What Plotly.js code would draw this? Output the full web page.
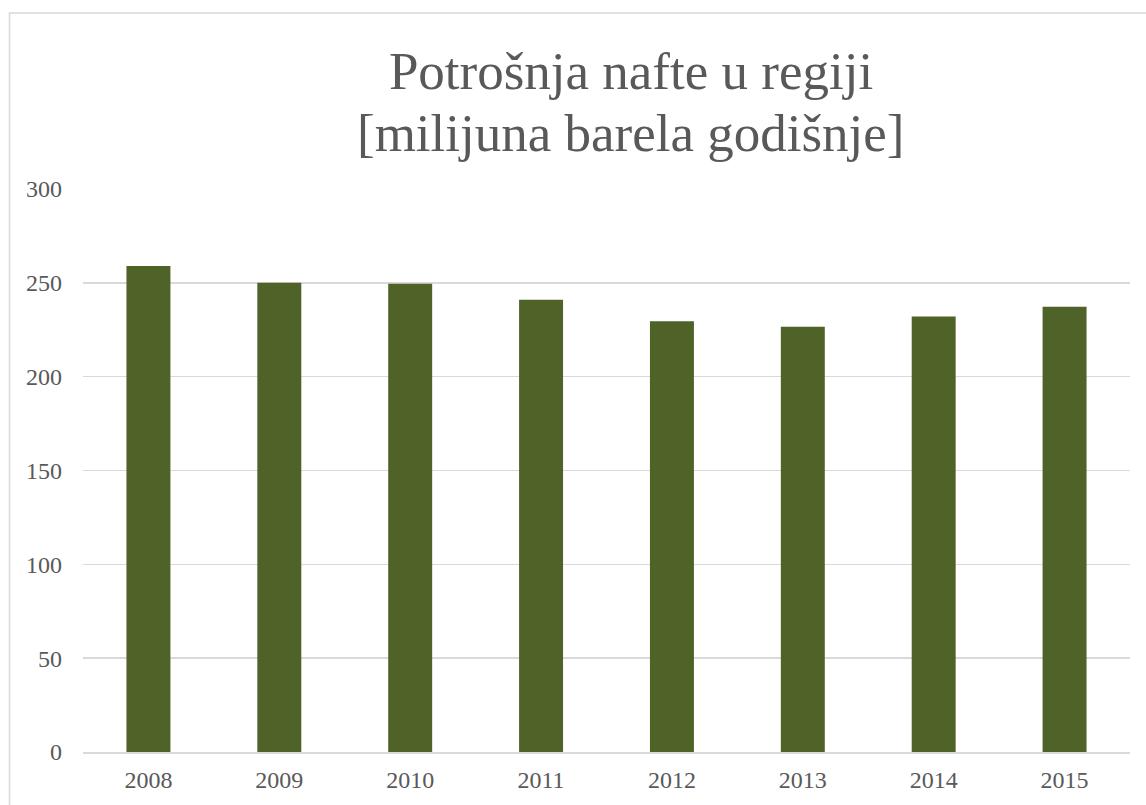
<!DOCTYPE html>
<html>
<head>
<meta charset="utf-8">
<script src="https://cdn.plot.ly/plotly-3.0.1.min.js"></script>
<style>
html,body{margin:0;padding:0;background:#fff;}
#chart{width:1146px;height:805px;}
</style>
</head>
<body>
<div id="chart"></div>
<script>
const years = ["2008","2009","2010","2011","2012","2013","2014","2015"];
const consumption = [259, 250, 249.5, 241, 229.5, 226.6, 232, 237.3];
const yTicks = [0, 50, 100, 150, 200, 250, 300];
const titleLine1 = "Potrošnja nafte u regiji";
const titleLine2 = "[milijuna barela godišnje]";

const W = 1146, H = 805;
const L = 82.5, R = 16, T = 188.5, B = 53.3;
const pw = W - L - R, ph = H - T - B;
const SERIF = "'Liberation Serif', 'Times New Roman', serif";
const TITLE_FONT = {family: SERIF, size: 53, color: "#595959"};

const trace = {
  type: "bar",
  x: years,
  y: consumption,
  marker: {color: "#4F6228", line: {width: 0}},
  hoverinfo: "x+y"
};

const layout = {
  width: W, height: H,
  margin: {l: L, r: R, t: T, b: B, pad: 0},
  paper_bgcolor: "#fff",
  plot_bgcolor: "#fff",
  showlegend: false,
  bargap: 0.664,
  font: {family: SERIF, color: "#595959"},
  title: {
    text: titleLine1,
    font: TITLE_FONT,
    xref: "container", x: 631 / W, xanchor: "center",
    yref: "container", y: 1 - 70 / H, yanchor: "middle"
  },
  annotations: [{
    text: titleLine2,
    font: TITLE_FONT,
    xref: "paper", x: (631 - L) / pw, xanchor: "center",
    yref: "paper", y: (H - B - 132) / ph, yanchor: "middle",
    showarrow: false
  }],
  xaxis: {
    type: "category",
    showgrid: false,
    showline: true, linecolor: "#d9d9d9", linewidth: 1.5,
    zeroline: false,
    ticks: "",
    tickfont: {family: SERIF, size: 24, color: "#595959"},
    ticklabelstandoff: 6
  },
  yaxis: {
    range: [0, 300],
    tickvals: yTicks,
    ticktext: yTicks.map(String),
    showgrid: true, gridcolor: "#d9d9d9", gridwidth: 1.5,
    zeroline: false,
    showline: false,
    ticks: "",
    tickfont: {family: SERIF, size: 24, color: "#595959"},
    ticklabelstandoff: 20
  },
  shapes: [{
    type: "rect", xref: "paper", yref: "paper",
    x0: (9 - L) / pw, x1: 1.2,
    y0: -0.3, y1: (H - B - 12.5) / ph,
    line: {color: "#d9d9d9", width: 1.5},
    fillcolor: "rgba(0,0,0,0)",
    layer: "below"
  }]
};

Plotly.newPlot("chart", [trace], layout, {displayModeBar: false, staticPlot: true});
</script>
</body>
</html>
